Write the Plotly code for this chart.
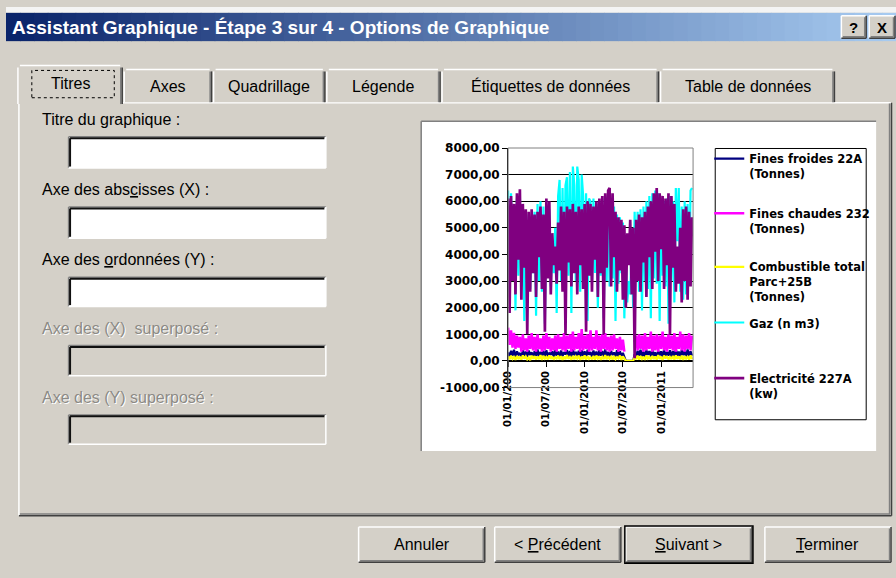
import plotly.graph_objects as go
import pandas as pd

# ---------------- data (weekly samples) ----------------
series_names = [
    "Fines froides 22A<br>(Tonnes)",
    "Fines chaudes 232<br>(Tonnes)",
    "Combustible total<br>Parc+25B<br>(Tonnes)",
    "Gaz (n m3)",
    "Electricité 227A<br>(kw)",
]
series_colors = ["#000080", "#FF00FF", "#FFFF00", "#00FFFF", "#800080"]
series_widths = [2.2, 2.5, 2.2, 2.2, 2.7]
start_date = "2009-01-01"
x_range = ["2009-01-01", "2011-05-31"]
tick_dates = ["2009-01-01", "2009-07-01", "2010-01-01", "2010-07-01", "2011-01-01"]
tick_labels = ["01/01/200", "01/07/200", "01/01/2010", "01/07/2010", "01/01/2011"]
y_ticks = [-1000, 0, 1000, 2000, 3000, 4000, 5000, 6000, 7000, 8000]
y_tick_labels = ["-1000,00", "0,00", "1000,00", "2000,00", "3000,00", "4000,00",
                 "5000,00", "6000,00", "7000,00", "8000,00"]

fines_froides = [
    320, 150, 380, 200, 420, 130, 360, 240, 300, 110,
    410, 180, 350, 140, 390, 220, 330, 100, 370, 190,
    430, 150, 340, 210, 380, 120, 400, 170, 310, 230,
    360, 140, 420, 200, 350, 110, 390, 180, 330, 240,
    410, 150, 370, 120, 440, 210, 340, 160, 380, 130,
    400, 190, 360, 100, 420, 230, 330, 150, 390, 170,
    350, 120, 410, 200, 370, 140, 430, 180, 340, 110,
    380, 220, 320, 150, 400, 130, 360, 190, 300, 100,
    0, 0, 0, 0, 0, 0, 250, 140, 380, 200,
    420, 160, 350, 120, 400, 230, 370, 150, 440, 180,
    330, 110, 390, 210, 360, 140, 420, 170, 340, 200,
    400, 120, 370, 160, 450, 190, 350, 130, 410, 220,
    380, 150, 430, 180, 360, 200,
]
fines_chaudes = [
    1250, 600, 1150, 500, 1050, 450, 950, 500, 900, 350,
    1000, 400, 850, 350, 950, 450, 1050, 400, 900, 350,
    1000, 450, 850, 350, 950, 400, 1050, 450, 900, 350,
    850, 400, 950, 350, 1000, 450, 900, 400, 1050, 350,
    950, 450, 1000, 350, 1100, 400, 900, 450, 1050, 350,
    1200, 400, 950, 450, 1000, 350, 1150, 400, 900, 450,
    1150, 400, 950, 350, 1000, 450, 1050, 400, 900, 350,
    950, 400, 1000, 450, 850, 350, 900, 400, 800, 350,
    None, None, None, None, None, None, 700, 950, 400, 1000,
    450, 950, 350, 1050, 400, 900, 450, 1100, 350, 950,
    400, 1000, 350, 950, 450, 1100, 400, 900, 350, 1000,
    450, 950, 400, 1050, 350, 900, 450, 1100, 400, 1000,
    350, 950, 450, 1050, 400, 950,
]
combustible = [
    180, 60, 200, 80, 150, 40, 190, 70, 160, 50,
    210, 90, 170, 60, 140, 30, 200, 80, 180, 50,
    160, 70, 220, 40, 190, 90, 150, 60, 210, 80,
    170, 50, 140, 90, 200, 60, 180, 40, 160, 70,
    220, 80, 150, 50, 190, 60, 170, 90, 200, 40,
    160, 70, 210, 50, 180, 80, 140, 60, 190, 50,
    200, 90, 170, 40, 150, 70, 220, 60, 180, 80,
    160, 50, 190, 70, 140, 90, 200, 40, 170, 60,
    0, 0, 0, 0, 0, 0, 150, 70, 200, 50,
    180, 80, 160, 40, 210, 90, 150, 60, 190, 70,
    170, 50, 220, 80, 160, 40, 200, 90, 180, 60,
    150, 70, 190, 50, 210, 80, 170, 60, 200, 40,
    180, 90, 160, 50, 210, 70,
]
gaz = [
    6400, 2600, 6300, 3000, 5900, 1900, 6100, 3200, 6200, 2800,
    5800, 1500, 5600, 3100, 5500, 2700, 5400, 3300, 5600, 1700,
    5900, 3000, 6000, 2600, 5800, 1400, 5900, 3200, 5700, 2800,
    4500, 3300, 5000, 1800, 6200, 6800, 3000, 6500, 2700, 6600,
    6900, 3200, 7100, 1800, 7300, 6600, 3000, 7300, 6800, 2600,
    7000, 6200, 3100, 6300, 1500, 6100, 6000, 2900, 6100, 3300,
    5900, 2000, 6000, 3200, 6100, 1600, 6200, 3000, 6300, 2800,
    6100, 3100, 5800, 1500, 5500, 2900, 5400, 3300, 5200, 1600,
    4000, 2200, 3000, 2500, 4500, 2000, 5600, 3100, 5600, 2600,
    5700, 1900, 5800, 3000, 6000, 2700, 6200, 1600, 6300, 3100,
    6400, 2900, 6300, 1500, 6100, 3200, 6000, 2800, 6100, 1400,
    6200, 3000, 6000, 2200, 6500, 4500, 6500, 2600, 5800, 2300,
    6000, 2500, 5900, 3000, 6400, 6500,
]
electricite = [
    6100, 1800, 6200, 3000, 5900, 2500, 6300, 3800, 6450, 2300,
    5900, 3500, 5700, 1000, 5600, 2600, 5700, 3300, 5500, 2400,
    5600, 3900, 5800, 2700, 5500, 1100, 6100, 3100, 6000, 2500,
    4800, 3600, 4300, 2900, 5200, 3400, 5800, 2600, 5600, 1000,
    5800, 3700, 5700, 2800, 5900, 3300, 5600, 2500, 5800, 3600,
    5700, 2700, 5900, 1100, 6000, 3200, 5900, 2600, 5800, 3800,
    6000, 2400, 6100, 3300, 6200, 1000, 6300, 3500, 6400, 6500,
    2800, 6300, 3900, 5600, 2600, 5400, 3400, 5300, 2300, 5100,
    2000, 4800, 3600, 5300, 2500, 5000, 100, 5300, 3000, 5500,
    2600, 5400, 3700, 5600, 2400, 5800, 3900, 6000, 2700, 6300,
    4100, 6500, 3000, 6300, 4200, 6200, 2700, 6100, 3600, 6300,
    1000, 6200, 3500, 5900, 2600, 4300, 2900, 5000, 2200, 5700,
    3000, 5800, 2300, 5600, 2800, 5400,
]
all_series = [fines_froides, fines_chaudes, combustible, gaz, electricite]
n_points = len(electricite)
for s in all_series:
    assert len(s) == n_points, len(s)
dates = pd.date_range(start_date, periods=n_points, freq="7D")

# ---------------- dialog texts ----------------
window_title = "Assistant Graphique - Étape 3 sur 4 - Options de Graphique"
tab_labels = ["Titres", "Axes", "Quadrillage", "Légende", "Étiquettes de données", "Table de données"]
field_labels = ["Titre du <u>g</u>raphique :", "Axe des abs<u>c</u>isses (X) :",
                "Axe des <u>o</u>rdonnées (Y) :", "Axe des (X)&nbsp; superposé :",
                "Axe des (Y) superposé :"]
button_labels = ["Annuler", "&lt; <u>P</u>récédent", "<u>S</u>uivant &gt;", "<u>T</u>erminer"]

# ---------------- geometry helpers ----------------
W, H = 896, 578
BG = "#d4d0c8"
UI_FONT = "Liberation Sans, Arial, sans-serif"
CH_FONT = "DejaVu Sans, sans-serif"


def px(x):
    return x / W


def py(y):
    return 1 - y / H


shapes = []
annotations = []


def rect(x0, y0, x1, y1, fill=None, line=None, lw=1, dash=None, layer="below"):
    d = dict(type="rect", xref="paper", yref="paper", x0=px(x0), x1=px(x1),
             y0=py(y1), y1=py(y0), layer=layer,
             line=dict(width=lw if line else 0, color=line if line else "rgba(0,0,0,0)"))
    if dash:
        d["line"]["dash"] = dash
    if fill:
        d["fillcolor"] = fill
    shapes.append(d)


def seg(x0, y0, x1, y1, color, lw=1.5, layer="below"):
    shapes.append(dict(type="line", xref="paper", yref="paper", x0=px(x0), x1=px(x1),
                       y0=py(y0), y1=py(y1), layer=layer, line=dict(color=color, width=lw)))


def text(x, y, s, size=16, color="black", anchor="left", family=UI_FONT):
    annotations.append(dict(x=px(x), y=py(y), xref="paper", yref="paper", text=s,
                            showarrow=False, xanchor=anchor, yanchor="middle",
                            font=dict(size=size, color=color, family=family)))


def raised(x0, y0, x1, y1, fill=BG):
    rect(x0, y0, x1, y1, fill=fill)
    seg(x0, y0, x1, y0, "#ffffff")
    seg(x0, y0, x0, y1, "#ffffff")
    seg(x0 + 1.5, y1 - 1.5, x1 - 1.5, y1 - 1.5, "#808080")
    seg(x1 - 1.5, y0 + 1.5, x1 - 1.5, y1 - 1.5, "#808080")
    seg(x0, y1, x1, y1, "#404040")
    seg(x1, y0, x1, y1, "#404040")


def sunken(x0, y0, x1, y1, fill):
    rect(x0, y0, x1, y1, fill=fill)
    seg(x0, y0, x1, y0, "#808080")
    seg(x0, y0, x0, y1, "#808080")
    seg(x0 + 1.5, y0 + 1.5, x1 - 1.5, y0 + 1.5, "#101010", lw=2)
    seg(x0 + 1.5, y0 + 1.5, x0 + 1.5, y1 - 1.5, "#101010", lw=2)
    seg(x0, y1, x1, y1, "#ffffff")
    seg(x1, y0, x1, y1, "#ffffff")


# top strip and title bar gradient
rect(0, 0, W, 6, fill="#f4f4f4")
c0, c1 = (10, 36, 106), (166, 202, 240)
nstrip = 64
for k in range(nstrip):
    t = k / (nstrip - 1)
    col = "rgb(%d,%d,%d)" % tuple(round(a + (b - a) * t) for a, b in zip(c0, c1))
    rect(k * W / nstrip, 6, (k + 1) * W / nstrip + 0.8, 35, fill=col)
text(4, 21, "<b>" + window_title + "</b>", size=19, color="white")
raised(841, 9, 866, 32)
raised(869, 9, 895, 32)
text(853.5, 21, "<b>?</b>", size=15, anchor="center")
text(882, 21, "<b>X</b>", size=15, anchor="center")

# tab panel
rect(13, 98, 891, 521, fill=BG)
seg(13, 98, 891, 98, "#ffffff")
seg(13, 98, 13, 521, "#ffffff")
seg(889.5, 99, 889.5, 519.5, "#808080")
seg(891.5, 98, 891.5, 521.5, "#404040")
seg(14, 519.5, 890, 519.5, "#808080")
seg(13, 521.5, 891.5, 521.5, "#404040")

tab_edges = [(12, 117), (119, 207), (209, 321), (323, 437), (439, 657), (659, 834)]
order = list(range(1, len(tab_labels))) + [0]
for i in order:
    x0, x1 = tab_edges[i]
    sel = (i == 0)
    y0, y1 = (60, 99.5) if sel else (64, 97.5)
    rect(x0, y0, x1, y1, fill=BG)
    seg(x0, y0 + 2, x0, y1, "#ffffff")
    seg(x0 + 2, y0, x1 - 2, y0, "#ffffff")
    seg(x1 - 1.5, y0 + 2, x1 - 1.5, y1, "#808080")
    seg(x1, y0 + 2, x1, y1, "#404040")
    text((x0 + x1) / 2, 78 if sel else 81, tab_labels[i], size=16, anchor="center")
rect(26, 65, 109, 93, line="black", lw=1, dash="dot")

# text fields
field_boxes = [(133, 165, True), (205, 237, True), (277, 307, True), (347, 378, False), (418, 448, False)]
for lab, (y0, y1, enabled) in zip(field_labels, field_boxes):
    sunken(63, y0, 322, y1, "#ffffff" if enabled else BG)
    if enabled:
        text(34, y0 - 18, lab, size=16)
    else:
        text(35, y0 - 17, lab, size=16, color="#ffffff")
        text(34, y0 - 18, lab, size=16, color="#8c8a85")

# chart preview area
rect(418, 117, 876, 455, fill="#ffffff")
seg(418, 117, 876, 117, "#808080")
seg(418, 117, 418, 455, "#808080")
rect(714, 145, 866, 423, fill="#ffffff", line="black", lw=1)

# buttons
button_edges = [(355, 482), (492, 619), (624, 751), (764, 891)]
for i, (lab, (x0, x1)) in enumerate(zip(button_labels, button_edges)):
    raised(x0, 533, x1, 569)
    if i == 2:
        rect(x0 - 1, 532, x1 + 1, 570, line="black", lw=1.5)
    text((x0 + x1) / 2, 551, lab, size=16, anchor="center")

# plot-area border
shapes.append(dict(type="rect", xref="x domain", yref="y domain", x0=0, x1=1, y0=0, y1=1,
                   layer="above", line=dict(color="#808080", width=1)))

# ---------------- chart ----------------
fig = go.Figure()
legend_ids = ["legend", "legend2", "legend3", "legend4", "legend5"]
for name, vals, color, lw, leg in zip(series_names, all_series, series_colors,
                                      series_widths, legend_ids):
    fig.add_trace(go.Scatter(x=dates, y=vals, mode="lines", name=name, legend=leg,
                             line=dict(color=color, width=lw), connectgaps=False,
                             hoverinfo="skip"))

X0, X1 = 505.5, 691.7
YT, YB = 144.5, 390.0
y_dom = [py(YB), py(YT)]
zero_pos = y_dom[0] + (0 - (-1000)) / 9000 * (y_dom[1] - y_dom[0])

layout = dict(
    width=W, height=H, margin=dict(l=0, r=0, t=0, b=0),
    paper_bgcolor=BG, plot_bgcolor="#c0c0c0",
    showlegend=True, shapes=shapes, annotations=annotations,
    xaxis=dict(domain=[px(X0), px(X1)], type="date", range=x_range,
               anchor="free", position=zero_pos,
               tickmode="array", tickvals=tick_dates, ticktext=tick_labels,
               tickangle=-90, ticks="outside", ticklen=5, tickcolor="black",
               showline=True, linecolor="black", linewidth=1, showgrid=False,
               zeroline=False, fixedrange=True,
               tickfont=dict(family=CH_FONT, size=10, color="black", weight="bold")),
    yaxis=dict(domain=y_dom, range=[-1000, 8000], anchor="x",
               tickmode="array", tickvals=y_ticks, ticktext=y_tick_labels,
               ticks="outside", ticklen=5, tickcolor="black",
               showline=True, linecolor="black", linewidth=1,
               showgrid=True, gridcolor="black", gridwidth=1,
               zeroline=False, fixedrange=True,
               tickfont=dict(family=CH_FONT, size=12, color="black", weight="bold")),
)
symbol_y = [156, 212, 267, 324, 381]
for leg, sy in zip(legend_ids, symbol_y):
    layout[leg] = dict(x=px(708), y=py(sy - 15), xanchor="left", yanchor="top",
                       bgcolor="rgba(0,0,0,0)", borderwidth=0, valign="top",
                       itemwidth=30, tracegroupgap=0,
                       font=dict(family=CH_FONT, size=11.5, color="black", weight="bold"))
fig.update_layout(**layout)

fig.write_html("out.html", config={"displayModeBar": False},
               post_script="document.body.style.margin='0px';document.body.style.overflow='hidden';")
